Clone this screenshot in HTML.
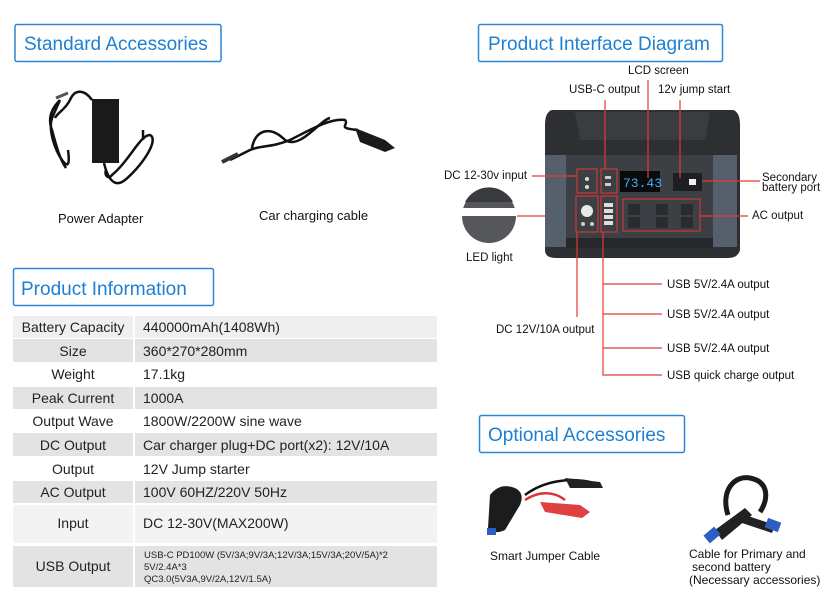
<!DOCTYPE html>
<html><head><meta charset="utf-8"><style>
html,body{margin:0;padding:0;background:#fff;}
svg{display:block;font-family:"Liberation Sans",sans-serif;}
</style></head><body>
<svg width="840" height="600" viewBox="0 0 840 600" xmlns="http://www.w3.org/2000/svg">
<rect width="840" height="600" fill="#fff"/>
<!-- title boxes -->
<g fill="none" stroke="#2a86d6" stroke-width="1.5">
<rect x="15" y="24.5" width="206" height="37" rx="2"/>
<rect x="13.5" y="268.5" width="200" height="37" rx="2"/>
<rect x="478.5" y="24.5" width="244" height="37" rx="2"/>
<rect x="479.5" y="415.5" width="205" height="37" rx="2"/>
</g>
<g fill="#1f80d2" font-size="19">
<text x="24" y="50">Standard Accessories</text>
<text x="21" y="295">Product Information</text>
<text x="488" y="50">Product Interface Diagram</text>
<text x="488" y="441">Optional Accessories</text>
</g>

<!-- power adapter -->
<g stroke="#111" fill="none" stroke-width="2.5">
<path d="M60 100 C50 110 48 120 52 130 C56 145 60 160 66 168 M60 100 L52 118 C48 130 55 150 62 160 C68 168 70 165 68 150 M92 100 C85 90 75 88 70 100 C65 110 58 112 55 118"/>
<path d="M104 163 C108 180 115 188 125 180 C140 168 160 140 150 135 C140 135 130 160 112 175 C108 180 104 175 106 170"/>
<path d="M143 130 L143 140"/>
</g>
<rect x="92" y="99" width="27" height="64" fill="#1a1a1a"/>
<path d="M56 98 L68 93" stroke="#555" stroke-width="3"/>
<!-- car cable -->
<g stroke="#111" fill="none" stroke-width="2.5">
<path d="M230 160 L250 150 C262 145 270 148 290 140 C310 130 330 118 345 120 C350 125 335 128 358 130"/>
<path d="M252 148 C255 130 270 125 285 140 C300 150 320 120 330 118"/>
</g>
<path d="M355 128 L385 140 L395 148 L385 152 L360 142 Z" fill="#1a1a1a"/>
<path d="M222 162 L238 154" stroke="#333" stroke-width="4"/>
<g fill="#111" font-size="13">
<text x="58" y="223">Power Adapter</text>
<text x="259" y="220">Car charging cable</text>
</g>

<!-- table -->
<g>
<rect x="13" y="316" width="120" height="22" fill="#efefef"/><rect x="135" y="316" width="302" height="22" fill="#efefef"/>
<rect x="13" y="339" width="120" height="23" fill="#e3e3e3"/><rect x="135" y="339" width="302" height="23" fill="#e3e3e3"/>
<rect x="13" y="387" width="120" height="22" fill="#e3e3e3"/><rect x="135" y="387" width="302" height="22" fill="#e3e3e3"/>
<rect x="13" y="433" width="120" height="23" fill="#e3e3e3"/><rect x="135" y="433" width="302" height="23" fill="#e3e3e3"/>
<rect x="13" y="481" width="120" height="22" fill="#e3e3e3"/><rect x="135" y="481" width="302" height="22" fill="#e3e3e3"/>
<rect x="13" y="505" width="120" height="38" fill="#f3f3f3"/><rect x="135" y="505" width="302" height="38" fill="#f3f3f3"/>
<rect x="13" y="546" width="120" height="41" fill="#e3e3e3"/><rect x="135" y="546" width="302" height="41" fill="#e3e3e3"/>
</g>
<g fill="#222" font-size="14" text-anchor="middle">
<text x="73" y="332">Battery Capacity</text>
<text x="73" y="356">Size</text>
<text x="73" y="379">Weight</text>
<text x="73" y="403">Peak Current</text>
<text x="73" y="426">Output Wave</text>
<text x="73" y="450">DC Output</text>
<text x="73" y="474">Output</text>
<text x="73" y="497">AC Output</text>
<text x="73" y="528">Input</text>
<text x="73" y="571">USB Output</text>
</g>
<g fill="#222" font-size="14">
<text x="143" y="332">440000mAh(1408Wh)</text>
<text x="143" y="356">360*270*280mm</text>
<text x="143" y="379">17.1kg</text>
<text x="143" y="403">1000A</text>
<text x="143" y="426">1800W/2200W  sine wave</text>
<text x="143" y="450">Car charger plug+DC port(x2): 12V/10A</text>
<text x="143" y="474">12V Jump starter</text>
<text x="143" y="497">100V 60HZ/220V 50Hz</text>
<text x="143" y="528">DC 12-30V(MAX200W)</text>
</g>
<g fill="#222" font-size="9.5">
<text x="144" y="558">USB-C PD100W (5V/3A;9V/3A;12V/3A;15V/3A;20V/5A)*2</text>
<text x="144" y="570">5V/2.4A*3</text>
<text x="144" y="582">QC3.0(5V3A,9V/2A,12V/1.5A)</text>
</g>

<!-- device -->
<path d="M552 110 L733 110 Q740 112 740 125 L740 250 Q738 258 728 258 L556 258 Q545 258 545 250 L545 125 Q545 112 552 110 Z" fill="#2d2f33"/>
<path d="M575 112 L710 112 L705 140 L580 140 Z" fill="#3a3c40"/>
<rect x="545" y="155" width="21" height="92" fill="#55606c"/>
<rect x="713" y="155" width="24" height="92" fill="#55606c"/>
<rect x="566" y="155" width="147" height="84" fill="#3c3f44"/>
<rect x="566" y="238" width="147" height="10" fill="#26282b"/>
<rect x="620" y="171" width="40" height="21" fill="#0a0a0a"/>
<text x="623" y="187" fill="#3fb0ff" font-size="13" font-family="Liberation Mono,monospace">73.43</text>
<rect x="673" y="173" width="29" height="18" fill="#1e1f22"/>
<rect x="689" y="179" width="7" height="6" fill="#eee"/>
<circle cx="587" cy="179" r="2" fill="#ddd"/><circle cx="587" cy="187" r="2" fill="#ddd"/>
<rect x="605" y="176" width="6" height="3" fill="#ccc"/><rect x="605" y="183" width="6" height="3" fill="#ccc"/>
<circle cx="587" cy="211" r="6" fill="#e8e8e8"/>
<circle cx="583" cy="224" r="2" fill="#ccc"/><circle cx="592" cy="224" r="2" fill="#ccc"/>
<g fill="#ddd"><rect x="604" y="203" width="9" height="4"/><rect x="604" y="209" width="9" height="4"/><rect x="604" y="215" width="9" height="4"/><rect x="604" y="221" width="9" height="4"/></g>
<g fill="#2a2b2e"><rect x="628" y="204" width="12" height="11"/><rect x="656" y="204" width="12" height="11"/><rect x="681" y="204" width="12" height="11"/><rect x="628" y="217" width="12" height="11"/><rect x="656" y="217" width="12" height="11"/><rect x="681" y="217" width="12" height="11"/></g>
<g fill="none" stroke="#e53935" stroke-width="1">
<rect x="577" y="169" width="20" height="24"/>
<rect x="601" y="169" width="16" height="24"/>
<rect x="576" y="196" width="22" height="36"/>
<rect x="601" y="196" width="16" height="36"/>
<rect x="623" y="199" width="77" height="32"/>
</g>
<g stroke="#e53935" stroke-width="1.2" fill="none">
<path d="M648 80 L648 178"/>
<path d="M605 100 L605 169"/>
<path d="M680 100 L680 178"/>
<path d="M532 176 L577 176"/>
<path d="M702 181 L760 181"/>
<path d="M700 216 L748 216"/>
<path d="M517 216 L545 216"/>
<path d="M577 232 L577 317"/>
<path d="M603 232 L603 375 L662 375 M603 284 L662 284 M603 314 L662 314 M603 348 L662 348"/>
</g>
<!-- LED light circle -->
<circle cx="489" cy="216" r="27" fill="#55575b"/>
<rect x="462" y="208" width="54" height="8" fill="#fff"/>
<path d="M465 202 A27 27 0 0 1 513 202 Z" fill="#3a3b3e"/>
<g fill="#111" font-size="11.5">
<text x="628" y="74">LCD screen</text>
<text x="569" y="93">USB-C output</text>
<text x="658" y="93">12v jump start</text>
<text x="444" y="179">DC 12-30v input</text>
<text x="762" y="181">Secondary</text>
<text x="762" y="191">battery port</text>
<text x="752" y="219">AC output</text>
<text x="466" y="261">LED light</text>
<text x="496" y="333">DC 12V/10A output</text>
<text x="667" y="288">USB 5V/2.4A output</text>
<text x="667" y="318">USB 5V/2.4A output</text>
<text x="667" y="352">USB 5V/2.4A output</text>
<text x="667" y="379">USB quick charge output</text>
</g>

<!-- jumper cable -->
<path d="M525 495 C545 480 570 478 590 482" stroke="#111" stroke-width="2.5" fill="none"/>
<path d="M525 500 C540 490 555 492 565 500" stroke="#d33" stroke-width="2.5" fill="none"/>
<path d="M565 478 L600 482 L603 488 L570 488 Z" fill="#222"/>
<path d="M540 502 L580 505 L590 512 L582 518 L545 512 Z" fill="#e04040"/>
<path d="M490 495 Q500 482 515 488 Q525 493 520 505 L505 530 Q495 535 488 528 Z" fill="#1c1c1c"/>
<rect x="487" y="528" width="9" height="7" fill="#2b5fc4"/>
<!-- primary/second cable -->
<path d="M728 515 C720 490 735 475 750 478 C770 482 768 500 760 512" stroke="#1a1a1a" stroke-width="5" fill="none"/>
<path d="M715 530 L745 508 L752 515 L722 540 Z" fill="#222"/>
<path d="M745 515 L775 525 L772 533 L742 523 Z" fill="#222"/>
<rect x="705" y="530" width="14" height="10" fill="#2b5fc4" transform="rotate(-40 712 535)"/>
<rect x="766" y="520" width="14" height="10" fill="#2b5fc4" transform="rotate(20 773 525)"/>
<g fill="#111" font-size="12">
<text x="490" y="560">Smart Jumper Cable</text>
<text x="689" y="558">Cable for Primary and</text>
<text x="692" y="571">second battery</text>
<text x="689" y="584">(Necessary accessories)</text>
</g>
</svg>
</body></html>
